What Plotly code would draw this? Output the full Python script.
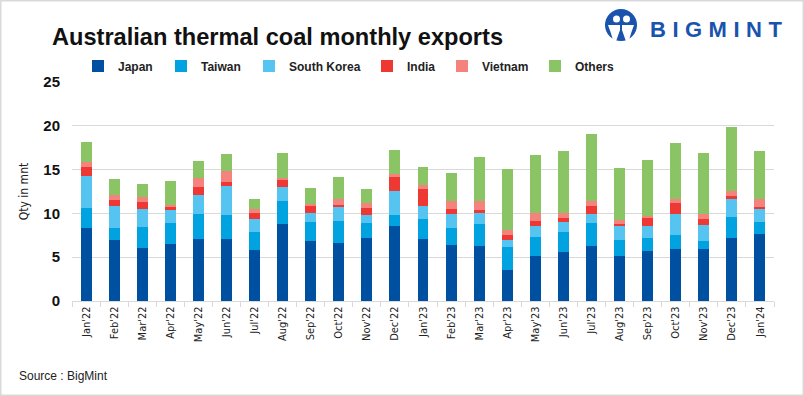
import plotly.graph_objects as go

# ---------------- data ----------------
months = ["Jan'22", "Feb'22", "Mar'22", "Apr'22", "May'22", "Jun'22", "Jul'22", "Aug'22",
          "Sep'22", "Oct'22", "Nov'22", "Dec'22", "Jan'23", "Feb'23", "Mar'23", "Apr'23",
          "May'23", "Jun'23", "Jul'23", "Aug'23", "Sep'23", "Oct'23", "Nov'23", "Dec'23", "Jan'24"]

japan = [8.39, 7.01, 6.09, 6.55, 7.13, 7.13, 5.86, 8.74, 6.90, 6.67, 7.24, 8.51, 7.13,
         6.44, 6.32, 3.56, 5.17, 5.63, 6.32, 5.17, 5.75, 5.98, 5.98, 7.24, 7.70]
taiwan = [2.18, 1.38, 2.41, 2.30, 2.76, 2.64, 2.07, 2.64, 2.07, 2.41, 1.61, 1.26, 2.18,
          1.84, 2.42, 2.65, 2.19, 2.30, 2.53, 1.84, 1.49, 1.61, 0.92, 2.30, 1.27]
south_korea = [3.68, 2.41, 1.96, 1.49, 2.18, 3.33, 1.38, 1.61, 1.03, 1.61, 0.92, 2.76, 1.49,
               1.61, 1.26, 0.80, 1.15, 1.04, 1.04, 1.50, 1.27, 2.30, 1.72, 2.07, 1.49]
india = [1.04, 0.69, 0.80, 0.35, 0.92, 0.50, 0.69, 0.80, 0.92, 0.23, 0.80, 1.61, 1.96,
         0.57, 0.34, 0.58, 0.57, 0.46, 0.91, 0.23, 0.92, 1.26, 0.69, 0.34, 0.23]
vietnam = [0.53, 0.58, 0.57, 0.23, 1.03, 1.27, 0.50, 0.23, 0.11, 0.69, 0.58, 0.34, 0.50,
           0.96, 1.08, 0.46, 0.92, 0.57, 0.58, 0.46, 0.23, 0.50, 0.58, 0.62, 0.92]
others = [2.34, 1.84, 1.50, 2.76, 1.96, 1.91, 1.10, 2.88, 1.84, 2.53, 1.61, 2.76, 2.03,
          3.18, 5.02, 7.01, 6.67, 7.13, 7.70, 5.97, 6.43, 6.40, 7.01, 7.32, 5.52]

series_names = ["Japan", "Taiwan", "South Korea", "India", "Vietnam", "Others"]
series_values = [japan, taiwan, south_korea, india, vietnam, others]
series_colors = ["#0050A2", "#00A2E0", "#55C4F1", "#EE3834", "#F4837D", "#8BC464"]
legend_widths = [38, 43, 73, 30, 48, 40]

y_ticks = [0, 5, 10, 15, 20, 25]

# ---------------- layout geometry ----------------
W, H = 804, 396
ML, MR, MT, MB = 72, 30, 82, 95
PW, PH = W - ML - MR, H - MT - MB


def px(x):
    return (x - ML) / PW


def py(y):
    return (H - MB - y) / PH


SANS = "Liberation Sans, Arial, sans-serif"
NARROW = "Liberation Sans Narrow, Arial Narrow, DejaVu Sans Condensed, Liberation Sans, sans-serif"

fig = go.Figure()
for name, vals, col, lw in zip(series_names, series_values, series_colors, legend_widths):
    fig.add_trace(go.Bar(name=name, x=months, y=vals, marker=dict(color=col, line=dict(width=0)),
                         legendwidth=lw))

logo_blue = "#1A53AD"


def path(points):
    s = "M " + " L ".join(f"{px(x):.5f},{py(y):.5f}" for x, y in points) + " Z"
    return s


shapes = [
    # outer border
    dict(type="rect", xref="paper", yref="paper", x0=px(0.75), x1=px(803.25), y0=py(395.25), y1=py(0.75),
         line=dict(color="#D9D9D9", width=1.5), fillcolor="rgba(0,0,0,0)", layer="above"),
    # logo icon
    dict(type="circle", xref="paper", yref="paper", x0=px(605), x1=px(637), y0=py(41), y1=py(9),
         fillcolor=logo_blue, line=dict(width=0)),
    dict(type="circle", xref="paper", yref="paper", x0=px(613), x1=px(620), y0=py(22.5), y1=py(15.5),
         fillcolor="white", line=dict(width=0)),
    dict(type="circle", xref="paper", yref="paper", x0=px(623), x1=px(630), y0=py(22.5), y1=py(15.5),
         fillcolor="white", line=dict(width=0)),
    dict(type="path", xref="paper", yref="paper",
         path=path([(608, 25), (620, 25), (620, 30), (616.5, 40), (613, 40), (610.5, 32)]),
         fillcolor="white", line=dict(width=0)),
    dict(type="path", xref="paper", yref="paper",
         path=path([(634, 25), (622, 25), (622, 30), (625.5, 40), (629, 40), (631.5, 32)]),
         fillcolor="white", line=dict(width=0)),
]

annotations = [
    dict(text="Australian thermal coal monthly exports", xref="paper", yref="paper",
         x=px(50), y=py(37), xanchor="left", yanchor="middle", showarrow=False,
         font=dict(family=SANS, size=23.6, color="#111111", weight="bold")),
    dict(text="Source : BigMint", xref="paper", yref="paper",
         x=px(17), y=py(376), xanchor="left", yanchor="middle", showarrow=False,
         font=dict(family=SANS, size=12, color="#222222")),
    dict(text='<span style="letter-spacing:6.5px">BIGMINT</span>', xref="paper", yref="paper",
         x=px(648), y=py(29.5), xanchor="left", yanchor="middle", showarrow=False,
         font=dict(family=SANS, size=22, color=logo_blue, weight="bold")),
]

fig.update_layout(
    width=W, height=H,
    margin=dict(l=ML, r=MR, t=MT, b=MB, pad=0),
    paper_bgcolor="white", plot_bgcolor="white",
    barmode="stack", bargap=0.61,
    showlegend=True,
    legend=dict(orientation="h", x=px(78), xanchor="left", y=py(66), yanchor="middle",
                font=dict(family=SANS, size=12, color="#222222", weight="bold"),
                itemwidth=30, traceorder="normal", bgcolor="rgba(0,0,0,0)",
                itemclick=False, itemdoubleclick=False),
    xaxis=dict(type="category", range=[-0.5, len(months) - 0.5], tickangle=-90,
               ticks="outside", tickson="boundaries", ticklen=5, tickcolor="#D9D9D9",
               showline=True, linecolor="#D9D9D9", linewidth=1, showgrid=False,
               tickfont=dict(family=NARROW, size=11, color="#222222")),
    yaxis=dict(range=[0, 25], tickvals=y_ticks, showgrid=True, gridcolor="#D9D9D9", gridwidth=1,
               zeroline=False, showline=False, ticks="", ticklabelstandoff=11,
               tickfont=dict(family=SANS, size=15, color="#111111", weight="bold"),
               title=dict(text="Qty in mnt", standoff=12,
                          font=dict(family=NARROW, size=12, color="#222222"))),
    shapes=shapes,
    annotations=annotations,
)

fig.write_html("out.html", config={"displayModeBar": False},
               post_script="document.body.style.margin='0';document.body.style.overflow='hidden';")
